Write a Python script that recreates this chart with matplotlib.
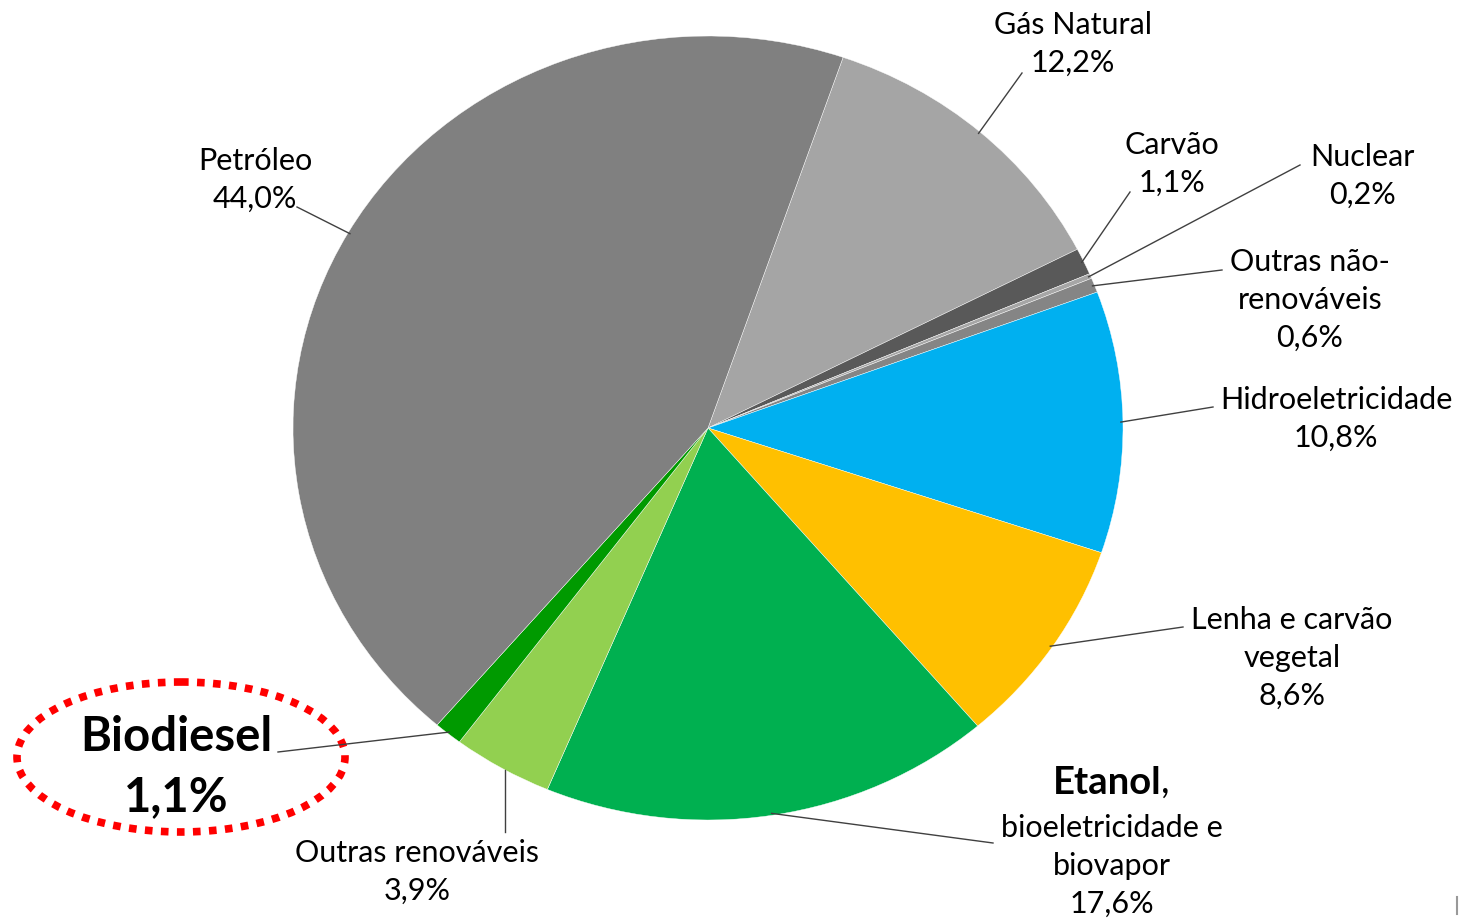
import numpy as np
import matplotlib
matplotlib.use("Agg")
import matplotlib.pyplot as plt
from matplotlib.transforms import Affine2D
from matplotlib.patches import Ellipse

# ---- data ----
categories = ["Gás Natural", "Carvão", "Nuclear", "Outras não-renováveis",
              "Hidroeletricidade", "Lenha e carvão vegetal",
              "Etanol, bioeletricidade e biovapor", "Outras renováveis",
              "Biodiesel", "Petróleo"]
values = [12.2, 1.1, 0.2, 0.6, 10.8, 8.6, 17.6, 3.9, 1.1, 44.0]
pct_labels = ["12,2%", "1,1%", "0,2%", "0,6%", "10,8%", "8,6%", "17,6%",
              "3,9%", "1,1%", "44,0%"]
colors = ["#A5A5A5", "#595959", "#A6A6A6", "#858585", "#00B0F0", "#FFC000",
          "#00B050", "#92D050", "#009A00", "#808080"]

W, H = 1459, 919
fig = plt.figure(figsize=(W / 100, H / 100), dpi=100)
ax = fig.add_axes([0, 0, 1, 1])
plt.rcParams['font.family'] = ['Lato', 'DejaVu Sans']

cx, cy, rx, ry = 708, 428, 415, 392
wedges, _ = ax.pie(values, colors=colors, startangle=71, counterclock=False,
                   radius=1, center=(0, 0),
                   wedgeprops=dict(edgecolor="white", linewidth=0.3))
tr = Affine2D().scale(rx, -ry).translate(cx, cy) + ax.transData
for w in wedges:
    w.set_transform(tr)
ax.set_aspect('auto')
ax.set_xlim(0, W)
ax.set_ylim(H, 0)
ax.axis('off')

def edge_point(w, f=1.0):
    a = np.deg2rad((w.theta1 + w.theta2) / 2)
    return cx + rx * f * np.cos(a), cy - ry * f * np.sin(a)

FS = 22
LS = 1.44
lc = "#404040"

# label specs: (text, x, y, line-end x, line-end y)
specs = [
    ("Gás Natural\n12,2%", 1073, 44, 1022, 73),
    ("Carvão\n1,1%", 1172, 164, 1130, 192),
    ("Nuclear\n0,2%", 1362, 176, 1300, 165),
    ("Outras não-\nrenováveis\n0,6%", 1310, 300, 1222, 270),
    ("Hidroeletricidade\n10,8%", 1336, 419, 1213, 407),
    ("Lenha e carvão\nvegetal\n8,6%", 1292, 658, 1183, 627),
    (None, 0, 0, 993, 843),
    ("Outras renováveis\n3,9%", 417, 872, 505, 832),
    (None, 0, 0, 278, 752),
    ("Petróleo\n44,0%", 255, 180, 297, 207),
]
for w, (txt, tx, ty, lx, ly) in zip(wedges, specs):
    px, py = edge_point(w, 0.995)
    if txt is not None and txt.startswith("Outras renov"):
        ax.plot([lx, lx], [ly, py + 4], color=lc, lw=1.0)
    else:
        ax.plot([lx, px], [ly, py], color=lc, lw=1.0)
    if txt is not None:
        ax.text(tx, ty, txt, ha='center', va='center', fontsize=FS,
                linespacing=LS, color='#000000')

# Etanol label
et = ax.text(1107, 783, "Etanol", ha='center', va='center', fontsize=27.5,
             fontweight='bold', color='#000000')
ax.annotate(",", xy=(1, 0), xycoords=et, ha='left', va='bottom',
            fontsize=27.5, color='#000000')
ax.text(1112, 866, "bioeletricidade e\nbiovapor\n17,6%", ha='center',
        va='center', fontsize=FS, linespacing=LS, color='#000000')

# Biodiesel label
ax.text(176, 767, "Biodiesel\n1,1%", ha='center', va='center', fontsize=34,
        fontweight='bold', linespacing=1.43, color='#000000')
ax.add_patch(Ellipse((181, 757), 328, 150, fill=False, edgecolor='#FF0000',
                     lw=5.5, linestyle=(0, (1, 1.1))))

# tiny mark bottom right
ax.plot([1457, 1457], [897, 914], color='#999999', lw=1.5)

fig.savefig("out.png", dpi=100)
